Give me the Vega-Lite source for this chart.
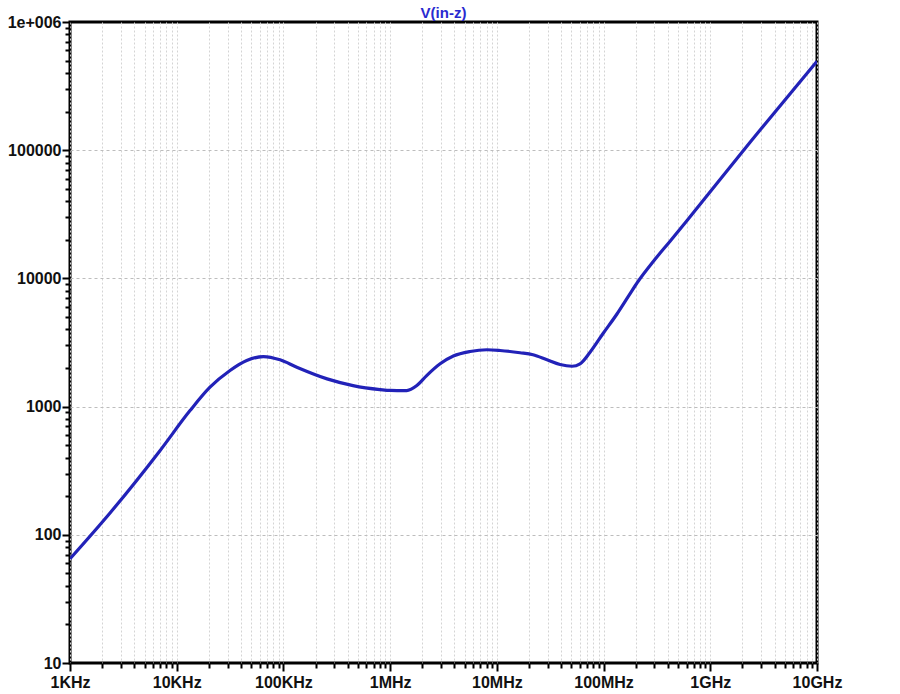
{
  "$schema": "https://vega.github.io/schema/vega-lite/v6.json",
  "width": 747,
  "height": 641,
  "autosize": {"type": "none"},
  "padding": {"left": 70, "top": 22, "right": 83, "bottom": 31},
  "background": "white",
  "title": {"text": "V(in-z)", "color": "#2a2ad0", "font": "Liberation Sans", "fontSize": 15, "fontWeight": "bold", "anchor": "middle", "offset": 3, "dy": 10},
  "config": {
    "view": {"stroke": "black", "strokeWidth": 3},
    "axis": {"labelFont": "Liberation Sans", "labelFontSize": 16, "labelColor": "#111", "labelFontWeight": "bold", "domain": false, "tickColor": "black", "tickWidth": 2, "labelOverlap": false, "labelFlush": false, "title": null}
  },
  "data": {"values": [
    {"f": 1000, "v": 65},
    {"f": 2371, "v": 148},
    {"f": 6966, "v": 453},
    {"f": 13330, "v": 931},
    {"f": 20510, "v": 1416},
    {"f": 31590, "v": 1911},
    {"f": 45290, "v": 2286},
    {"f": 64860, "v": 2458},
    {"f": 92900, "v": 2317},
    {"f": 133400, "v": 2029},
    {"f": 256500, "v": 1646},
    {"f": 449000, "v": 1459},
    {"f": 803500, "v": 1358},
    {"f": 1000000, "v": 1336},
    {"f": 1430000, "v": 1334},
    {"f": 1780000, "v": 1459},
    {"f": 2200000, "v": 1746},
    {"f": 2940000, "v": 2158},
    {"f": 3910000, "v": 2480},
    {"f": 5610000, "v": 2690},
    {"f": 8090000, "v": 2775},
    {"f": 10700000, "v": 2740},
    {"f": 16500000, "v": 2630},
    {"f": 21800000, "v": 2535},
    {"f": 29500000, "v": 2317},
    {"f": 39100000, "v": 2129},
    {"f": 50700000, "v": 2065},
    {"f": 60200000, "v": 2156},
    {"f": 74700000, "v": 2656},
    {"f": 98900000, "v": 3715},
    {"f": 134000000, "v": 5300},
    {"f": 170000000, "v": 7200},
    {"f": 211000000, "v": 9500},
    {"f": 291000000, "v": 13500},
    {"f": 420000000, "v": 19500},
    {"f": 606000000, "v": 28300},
    {"f": 2360000000, "v": 115500},
    {"f": 10000000000, "v": 495000}
  ]},
  "mark": {"type": "line", "color": "#2222b8", "strokeWidth": 3.2, "interpolate": "monotone", "clip": true},
  "encoding": {
    "x": {
      "field": "f", "type": "quantitative",
      "scale": {"type": "log", "domain": [1000, 10000000000], "nice": false},
      "axis": {
        "values": [1000,2000,3000,4000,5000,6000,7000,8000,9000,10000,20000,30000,40000,50000,60000,70000,80000,90000,100000,200000,300000,400000,500000,600000,700000,800000,900000,1000000,2000000,3000000,4000000,5000000,6000000,7000000,8000000,9000000,10000000,20000000,30000000,40000000,50000000,60000000,70000000,80000000,90000000,100000000,200000000,300000000,400000000,500000000,600000000,700000000,800000000,900000000,1000000000,2000000000,3000000000,4000000000,5000000000,6000000000,7000000000,8000000000,9000000000,10000000000],
        "labelExpr": "datum.value==1000?'1KHz':datum.value==10000?'10KHz':datum.value==100000?'100KHz':datum.value==1000000?'1MHz':datum.value==10000000?'10MHz':datum.value==100000000?'100MHz':datum.value==1000000000?'1GHz':datum.value==10000000000?'10GHz':''",
        "grid": true,
        "gridColor": "#d4d4d4",
        "gridDash": [2, 2],
        "gridWidth": 1,
        "tickSize": {"condition": {"test": "indexof([1000,10000,100000,1000000,10000000,100000000,1000000000,10000000000], datum.value) >= 0", "value": 8}, "value": 5},
        "labelPadding": 3
      }
    },
    "y": {
      "field": "v", "type": "quantitative",
      "scale": {"type": "log", "domain": [10, 1000000], "nice": false},
      "axis": {
        "values": [10,20,30,40,50,60,70,80,90,100,200,300,400,500,600,700,800,900,1000,2000,3000,4000,5000,6000,7000,8000,9000,10000,20000,30000,40000,50000,60000,70000,80000,90000,100000,200000,300000,400000,500000,600000,700000,800000,900000,1000000],
        "labelExpr": "datum.value==1000000?'1e+006':indexof([10,100,1000,10000,100000],datum.value)>=0?format(datum.value,'d'):''",
        "grid": true,
        "gridColor": "#bdbdbd",
        "gridDash": [3, 3],
        "gridWidth": 1.2,
        "gridOpacity": {"condition": {"test": "indexof([100,1000,10000,100000], datum.value) >= 0", "value": 1}, "value": 0},
        "tickSize": {"condition": {"test": "indexof([10,100,1000,10000,100000,1000000], datum.value) >= 0", "value": 8}, "value": 5},
        "labelPadding": 1
      }
    }
  }
}
